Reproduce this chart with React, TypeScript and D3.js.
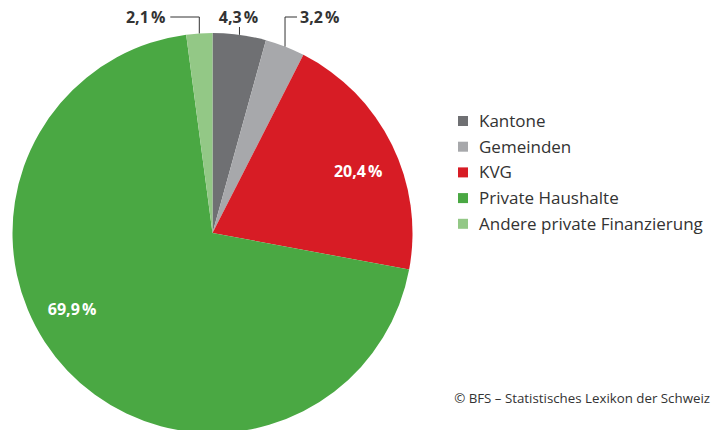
import React from 'react';
import * as d3 from 'd3';

const categories = ['Kantone', 'Gemeinden', 'KVG', 'Private Haushalte', 'Andere private Finanzierung'];
const shares = [4.3, 3.2, 20.4, 69.9, 2.1];
const labels = ['4,3\u202F%', '3,2\u202F%', '20,4\u202F%', '69,9\u202F%', '2,1\u202F%'];
const colors = ['#6f7073', '#a7a8ab', '#d71c25', '#4aa843', '#93c886'];
const source = '© BFS – Statistisches Lexikon der Schweiz';

const FONT = '"Open Sans", "Noto Sans", sans-serif';
const W = 712;
const H = 430;
const cx = 212.5;
const cy = 233;
const R = 200;

export default function App() {
  const pie = d3.pie<number>().sort(null).value(d => d);
  const arcs = pie(shares);
  const arc = d3.arc<d3.PieArcDatum<number>>().innerRadius(0).outerRadius(R);

  // point on the rim at the slice middle
  const rim = (a: d3.PieArcDatum<number>, r: number) => {
    const m = (a.startAngle + a.endAngle) / 2;
    return [Math.sin(m) * r, -Math.cos(m) * r];
  };
  const inside = (a: d3.PieArcDatum<number>, r: number, shift: number) => {
    const m = (a.startAngle + a.endAngle) / 2 + shift;
    return [Math.sin(m) * r, -Math.cos(m) * r];
  };

  const topY = 17 - cy;

  return (
    <svg width={W} height={H} style={{ position: 'absolute', left: 0, top: 0, background: '#fff' }}>
      <g transform={`translate(${cx},${cy})`}>
        {arcs.map((a, i) => (
          <path key={i} d={arc(a) || ''} fill={colors[i]} />
        ))}

        {/* inner labels */}
        {[2, 3].map(i => {
          const [x, y] = i === 2 ? inside(arcs[i], 158, 0.06) : inside(arcs[i], 160, 0.26);
          return (
            <text key={i} x={x} y={y} dy="0.35em" textAnchor="middle" fill="#fff"
              fontFamily={FONT} fontWeight={700} fontSize={16}>{labels[i]}</text>
          );
        })}

        {/* Kantone: short tick */}
        {(() => {
          const [x, y] = rim(arcs[0], R);
          return (
            <g>
              <line x1={x} x2={x} y1={y} y2={27 - cy} stroke="#333" strokeWidth={1} />
              <text x={x - 1} y={23 - cy} textAnchor="middle" fill="#333"
                fontFamily={FONT} fontWeight={700} fontSize={16}>{labels[0]}</text>
            </g>
          );
        })()}

        {/* Gemeinden: elbow to the right */}
        {(() => {
          const [x, y] = rim(arcs[1], R);
          return (
            <g>
              <polyline points={`${x},${y} ${x},${topY} ${x + 12},${topY}`} fill="none" stroke="#333" strokeWidth={1} />
              <text x={x + 15} y={23 - cy} textAnchor="start" fill="#333"
                fontFamily={FONT} fontWeight={700} fontSize={16}>{labels[1]}</text>
            </g>
          );
        })()}

        {/* Andere private Finanzierung: elbow to the left */}
        {(() => {
          const [x, y] = rim(arcs[4], R);
          return (
            <g>
              <polyline points={`${x},${y} ${x},${topY} ${x - 29},${topY}`} fill="none" stroke="#333" strokeWidth={1} />
              <text x={x - 34} y={23 - cy} textAnchor="end" fill="#333"
                fontFamily={FONT} fontWeight={700} fontSize={16}>{labels[4]}</text>
            </g>
          );
        })()}
      </g>

      {/* legend */}
      <g transform="translate(458,116)">
        {categories.map((c, i) => (
          <g key={c} transform={`translate(0,${i * 25.7})`}>
            <rect x={0} y={0} width={10} height={10} fill={colors[i]} />
            <text x={21} y={5} dy="0.35em" fill="#333" fontFamily={FONT} fontSize={17}>{c}</text>
          </g>
        ))}
      </g>

      <text x={710} y={398} dy="0.35em" textAnchor="end" fill="#333" fontFamily={FONT} fontSize={13.3}>{source}</text>
    </svg>
  );
}
